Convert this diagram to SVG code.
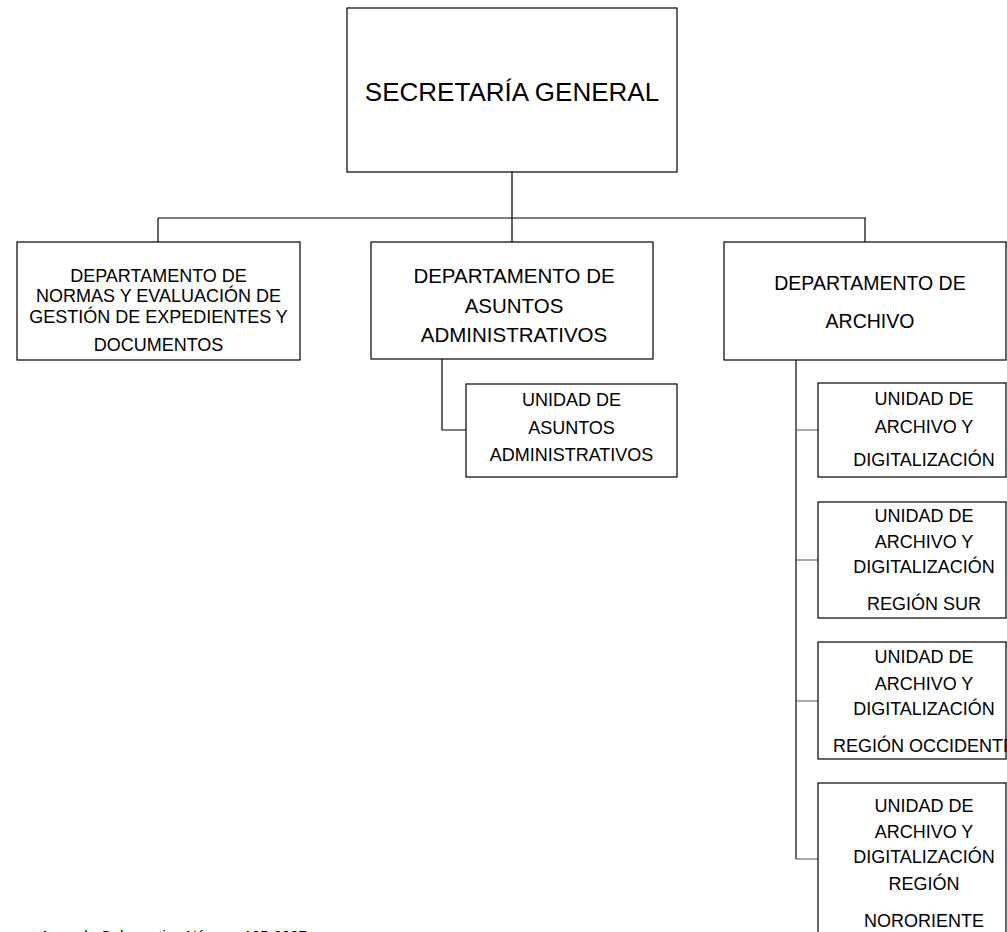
<svg xmlns="http://www.w3.org/2000/svg" width="1007" height="932" viewBox="0 0 1007 932">
<style>
.box{fill:#fff;stroke:#000;stroke-width:1.2}
.ln{fill:none;stroke:#000;stroke-width:1.2}
.lg{fill:none;stroke:#555;stroke-width:1.2}
text{font-family:"Liberation Sans",Arial,sans-serif;fill:#000;text-anchor:middle}
.t18{font-size:18px}
.t20{font-size:20.5px}
.t19{font-size:19.5px}
.t26{font-size:26px}
</style>
<rect width="1007" height="932" fill="#fff"/>
<g id="connectors">
<path class="ln" d="M512 172V218M158 218H866M158 218V242M512 218V242M865 218V242"/>
<path class="ln" d="M442 359V430H466"/>
<path class="ln" d="M796 360V859"/>
<path class="lg" d="M796 430H818M796 560H818M796 701H818M796 859H818"/>
</g>
<g id="secretaria">
<rect class="box" x="347" y="8" width="330" height="164"/>
<text class="t26" x="512" y="101">SECRETARÍA GENERAL</text>
</g>
<g id="dep-normas">
<rect class="box" x="17" y="242" width="283" height="118"/>
<text class="t18" x="158.5" y="282">DEPARTAMENTO DE</text>
<text class="t18" x="158.5" y="302">NORMAS Y EVALUACIÓN DE</text>
<text class="t18" x="158.5" y="323">GESTIÓN DE EXPEDIENTES Y</text>
<text class="t18" x="158.5" y="351">DOCUMENTOS</text>
</g>
<g id="dep-asuntos">
<rect class="box" x="371" y="242" width="282" height="117"/>
<text class="t20" x="514" y="283">DEPARTAMENTO DE</text>
<text class="t20" x="514" y="313">ASUNTOS</text>
<text class="t20" x="514" y="342">ADMINISTRATIVOS</text>
</g>
<g id="unidad-asuntos">
<rect class="box" x="466" y="384" width="211" height="93"/>
<text class="t18" x="571.5" y="406">UNIDAD DE</text>
<text class="t18" x="571.5" y="434">ASUNTOS</text>
<text class="t18" x="571.5" y="461">ADMINISTRATIVOS</text>
</g>
<g id="dep-archivo">
<rect class="box" x="724" y="242" width="282" height="118"/>
<text class="t19" x="870" y="290">DEPARTAMENTO DE</text>
<text class="t19" x="870" y="328">ARCHIVO</text>
</g>
<g id="unidad-archivo">
<rect class="box" x="818" y="383" width="188" height="94"/>
<text class="t18" x="924" y="405">UNIDAD DE</text>
<text class="t18" x="924" y="433">ARCHIVO Y</text>
<text class="t18" x="924" y="466">DIGITALIZACIÓN</text>
</g>
<g id="unidad-sur">
<rect class="box" x="818" y="502" width="188" height="116"/>
<text class="t18" x="924" y="522">UNIDAD DE</text>
<text class="t18" x="924" y="548">ARCHIVO Y</text>
<text class="t18" x="924" y="573">DIGITALIZACIÓN</text>
<text class="t18" x="924" y="610">REGIÓN SUR</text>
</g>
<g id="unidad-occidente">
<rect class="box" x="818" y="642" width="188" height="117"/>
<text class="t18" x="924" y="663">UNIDAD DE</text>
<text class="t18" x="924" y="690">ARCHIVO Y</text>
<text class="t18" x="924" y="715">DIGITALIZACIÓN</text>
<text class="t18" x="924" y="752">REGIÓN OCCIDENTE</text>
</g>
<g id="unidad-nororiente">
<rect class="box" x="818" y="783" width="188" height="170"/>
<text class="t18" x="924" y="812">UNIDAD DE</text>
<text class="t18" x="924" y="838">ARCHIVO Y</text>
<text class="t18" x="924" y="863">DIGITALIZACIÓN</text>
<text class="t18" x="924" y="890">REGIÓN</text>
<text class="t18" x="924" y="927">NORORIENTE</text>
</g>
<text x="40" y="941" style="font-size:15px;text-anchor:start">Acuerdo Gubernativo Número 125-2007</text>
</svg>
